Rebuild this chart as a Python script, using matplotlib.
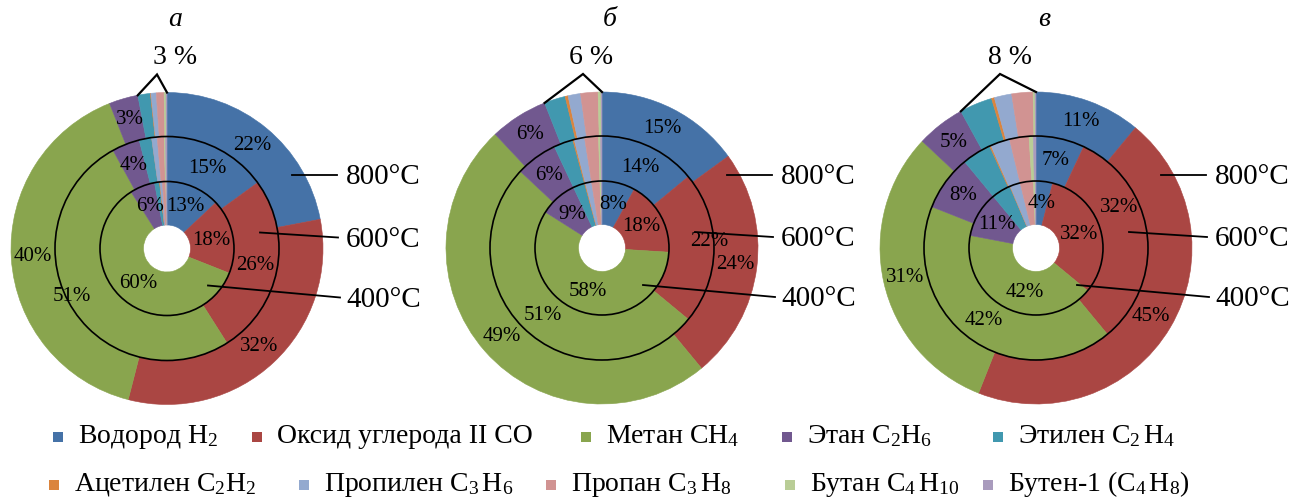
import numpy as np
import matplotlib.pyplot as plt
from matplotlib.patches import Circle, Rectangle

plt.rcParams['font.family'] = ['Liberation Serif', 'DejaVu Serif']
plt.rcParams['mathtext.fontset'] = 'custom'
plt.rcParams['mathtext.rm'] = 'Liberation Serif'
plt.rcParams['mathtext.it'] = 'Liberation Serif:italic'

W, H = 1303, 504

gases = [r'Водород $\mathregular{H_2}$', 'Оксид углерода II CO', r'Метан $\mathregular{CH_4}$',
         r'Этан $\mathregular{C_2H_6}$', r'Этилен $\mathregular{C_2\,H_4}$',
         r'Ацетилен $\mathregular{C_2H_2}$', r'Пропилен $\mathregular{C_3\,H_6}$',
         r'Пропан $\mathregular{C_3\,H_8}$', r'Бутан $\mathregular{C_4\,H_{10}}$',
         r'Бутен-1 ($\mathregular{C_4\,H_8}$)']
colors = ['#4572A7', '#AA4643', '#89A54E', '#71588F', '#4198AF',
          '#DB843D', '#93A9CF', '#D19392', '#B9CD96', '#A99BBD']

temps = ['400°C', '600°C', '800°C']
panels = ['а', 'б', 'в']
rest_labels = ['3 %', '6 %', '8 %']

# % of each gas, order as in gases
a_400 = [13, 18, 60, 6, 1.2, 0.1, 0.6, 0.8, 0.2, 0.1]
a_600 = [15, 26, 51, 4, 1.8, 0.0, 0.8, 1.0, 0.2, 0.2]
a_800 = [22, 32, 40, 3, 1.3, 0.05, 0.55, 0.8, 0.2, 0.1]
b_400 = [8, 18, 58, 9, 2.8, 0.2, 1.5, 2.0, 0.3, 0.2]
b_600 = [14, 22, 51, 6, 2.8, 0.2, 1.5, 2.0, 0.3, 0.2]
b_800 = [15, 24, 49, 6, 2.2, 0.3, 1.3, 1.8, 0.3, 0.1]
c_400 = [4, 32, 42, 11, 4.6, 0.1, 2.5, 3.2, 0.4, 0.2]
c_600 = [7, 32, 42, 8, 4.2, 0.2, 2.8, 2.8, 0.6, 0.4]
c_800 = [11, 45, 31, 5, 3.4, 0.3, 1.8, 2.2, 0.2, 0.1]

data = [[a_400, a_600, a_800], [b_400, b_600, b_800], [c_400, c_600, c_800]]

# layout (image pixel coords, y down)
centers = [(167, 248.5), (602, 248), (1036, 248)]
radii = [23.5, 67, 112, 156]
apex_dx = [-10, -19, -36]
text_dx = [8, -11, -26]
lead = [((41, 37), (173, 49), 51.5), ((93, -16), (171, -11), -8.5), ((125, -73.5), (170, -73.5), -71.5)]
# hand moved labels: (chart, ring, gas) -> (dx, dy)
nudge = {(0, 1, 2): (-18, 2), (1, 1, 1): (18, -6), (2, 1, 1): (-6, -29), (2, 0, 2): (8, 4)}

row1 = [(58, 0), (257, 1), (586, 2), (787, 3), (998, 4)]
row2 = [(54, 5), (304, 6), (551, 7), (790, 8), (988, 9)]


def Y(y):
    return H - y


def drawChart(ax, k):
    cx, cy = centers[k]
    for i, vals in enumerate(data[k]):
        r_out = radii[i + 1]
        width = radii[i + 1] - radii[i]
        wedges, _ = ax.pie(vals, colors=colors, radius=r_out, center=(cx, Y(cy)),
                           startangle=90, counterclock=False, normalize=True,
                           wedgeprops=dict(width=width, linewidth=0.4))
        for w in wedges:
            w.set_edgecolor(w.get_facecolor())
        rmid = (radii[i] + radii[i + 1]) / 2
        tot = float(sum(vals))
        cum = 0.0
        for j, v in enumerate(vals):
            if j < 4:
                th = np.radians(360 * (cum + v / 2) / tot)
                dx, dy = nudge.get((k, i, j), (0, 0))
                ax.text(cx + rmid * np.sin(th) + dx, Y(cy) + rmid * np.cos(th) - dy, '%d%%' % round(v),
                        ha='center', va='center', fontsize=15)
            cum += v
    for r in radii[1:3]:
        ax.add_patch(Circle((cx, Y(cy)), r, fill=False, ec='black', lw=1.2))

    # leader lines + temperatures
    for t, (p0, p1, ty) in zip(temps, lead):
        ax.plot([cx + p0[0], cx + p1[0]], [Y(cy + p0[1]), Y(cy + p1[1])], color='black', lw=1.3)
        ax.text(cx + 179, Y(cy + ty), t, ha='left', va='center', fontsize=21)

    # bracket over small gases
    vals = data[k][2]
    rest = sum(vals[4:]) / float(sum(vals))
    th = -2 * np.pi * rest
    R = radii[3]
    xs = [cx + R * np.sin(th), cx + apex_dx[k], cx]
    ys = [Y(cy) + R * np.cos(th), Y(cy - 174), Y(cy) + R]
    ax.plot(xs, ys, color='black', lw=1.6, solid_joinstyle='miter')
    ax.text(cx + text_dx[k], Y(57), rest_labels[k], ha='center', va='center', fontsize=20)
    ax.text(cx + 8, Y(20), panels[k], ha='center', va='center', fontsize=20, style='italic')


fig = plt.figure(figsize=(W / 100, H / 100), dpi=100)
ax = fig.add_axes([0, 0, 1, 1])
for k in range(3):
    drawChart(ax, k)

for yrow, row in [(443, row1), (491, row2)]:
    for mx, gi in row:
        ax.add_patch(Rectangle((mx - 5, Y(yrow - 6) - 5), 10, 10, color=colors[gi], lw=0))
        ax.text(mx + 20, Y(yrow), gases[gi], ha='left', va='baseline', fontsize=20)

ax.set_xlim(0, W)
ax.set_ylim(0, H)
ax.set_aspect('equal')
ax.axis('off')
fig.savefig('out.png', dpi=100)
